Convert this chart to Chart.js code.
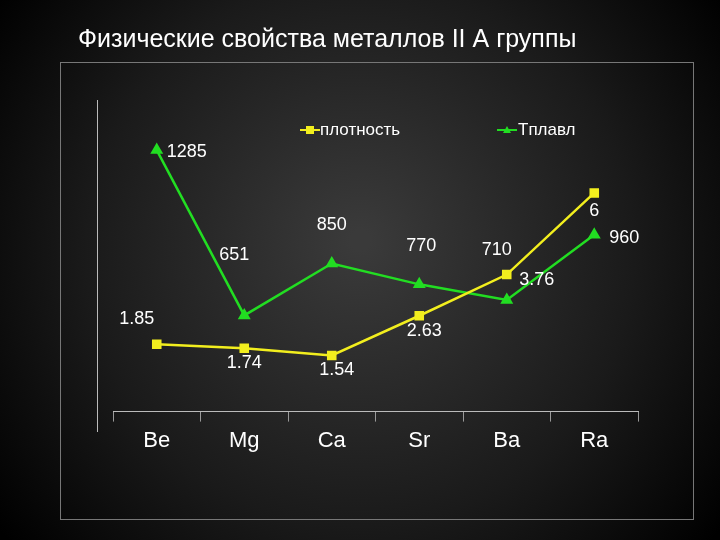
<!DOCTYPE html><html><head><meta charset="utf-8">
<script src="https://cdn.jsdelivr.net/npm/chart.js@4"></script>
<style>html,body{margin:0;padding:0;background:#000}canvas{display:block}</style></head><body>
<canvas id="c" width="720" height="540"></canvas>
<script>
const categories=["Be","Mg","Ca","Sr","Ba","Ra"];
const density=[1.85,1.74,1.54,2.63,3.76,6];
const tmelt=[1285,651,850,770,710,960];
const densityLabels=["1.85","1.74","1.54","2.63","3.76","6"];
const tmeltLabels=["1285","651","850","770","710","960"];
const dOff=[[-20,-25],[0,15],[5,15],[5,15],[30,5],[0,18]];
const tOff=[[30,2],[-10,-60],[0,-38],[2,-38],[-10,-50],[30,3]];
const bg={id:'bg',beforeDraw(ch){const c=ch.ctx;const g=c.createRadialGradient(360,240,10,360,260,450);g.addColorStop(0,'#3a3a3a');g.addColorStop(0.6,'#1a1a1a');g.addColorStop(1,'#000');c.save();c.fillStyle=g;c.fillRect(0,0,720,540);c.strokeStyle='#777';c.lineWidth=1;c.strokeRect(60.5,62.5,633,457);c.strokeStyle='#bbb';c.beginPath();c.moveTo(97.5,100);c.lineTo(97.5,432);c.stroke();
c.fillStyle='#fff';c.font='25px "Liberation Sans", Arial';c.textBaseline='middle';c.fillText('Физические свойства металлов II А группы',78,40);
c.font='17px "Liberation Sans", Arial';
c.strokeStyle='#f2ee1e';c.lineWidth=2;c.beginPath();c.moveTo(300,130);c.lineTo(320,130);c.stroke();c.fillStyle='#f2ee1e';c.fillRect(306,126,8,8);c.fillStyle='#fff';c.fillText('плотность',320,130);
c.strokeStyle='#22dd22';c.beginPath();c.moveTo(497,130);c.lineTo(517,130);c.stroke();c.fillStyle='#22dd22';c.beginPath();c.moveTo(507,126);c.lineTo(511,133);c.lineTo(503,133);c.fill();c.fillStyle='#fff';c.fillText('Tплавл',518,130);c.restore();},
afterDatasetsDraw(ch){const c=ch.ctx;c.save();c.fillStyle='#fff';c.font='18px "Liberation Sans", Arial';c.textAlign='center';c.textBaseline='middle';
ch.getDatasetMeta(0).data.forEach((p,i)=>c.fillText(densityLabels[i],p.x+dOff[i][0],p.y+dOff[i][1]));
ch.getDatasetMeta(1).data.forEach((p,i)=>c.fillText(tmeltLabels[i],p.x+tOff[i][0],p.y+tOff[i][1]));c.restore();}};
new Chart(document.getElementById('c'),{type:'line',data:{labels:categories,datasets:[
{label:'плотность',data:density,yAxisID:'yd',borderColor:'#f2ee1e',backgroundColor:'#f2ee1e',borderWidth:2.5,pointStyle:'rect',pointRadius:5,tension:0},
{label:'Tплавл',data:tmelt,yAxisID:'yt',borderColor:'#22dd22',backgroundColor:'#22dd22',borderWidth:2.5,pointStyle:'triangle',pointRadius:5,tension:0}]},
options:{responsive:false,animation:false,layout:{padding:{left:113,right:82,top:100,bottom:80}},
plugins:{legend:{display:false},tooltip:{enabled:false}},
scales:{x:{offset:true,grid:{display:true,drawOnChartArea:false,color:'#999',tickLength:10,offset:true},border:{color:'#bbb'},ticks:{color:'#fff',font:{size:22,family:'"Liberation Sans", Arial'},padding:6}},
yd:{display:false,min:0,max:8.55},yt:{display:false,min:282,max:1477}}},plugins:[bg]});
</script></body></html>
